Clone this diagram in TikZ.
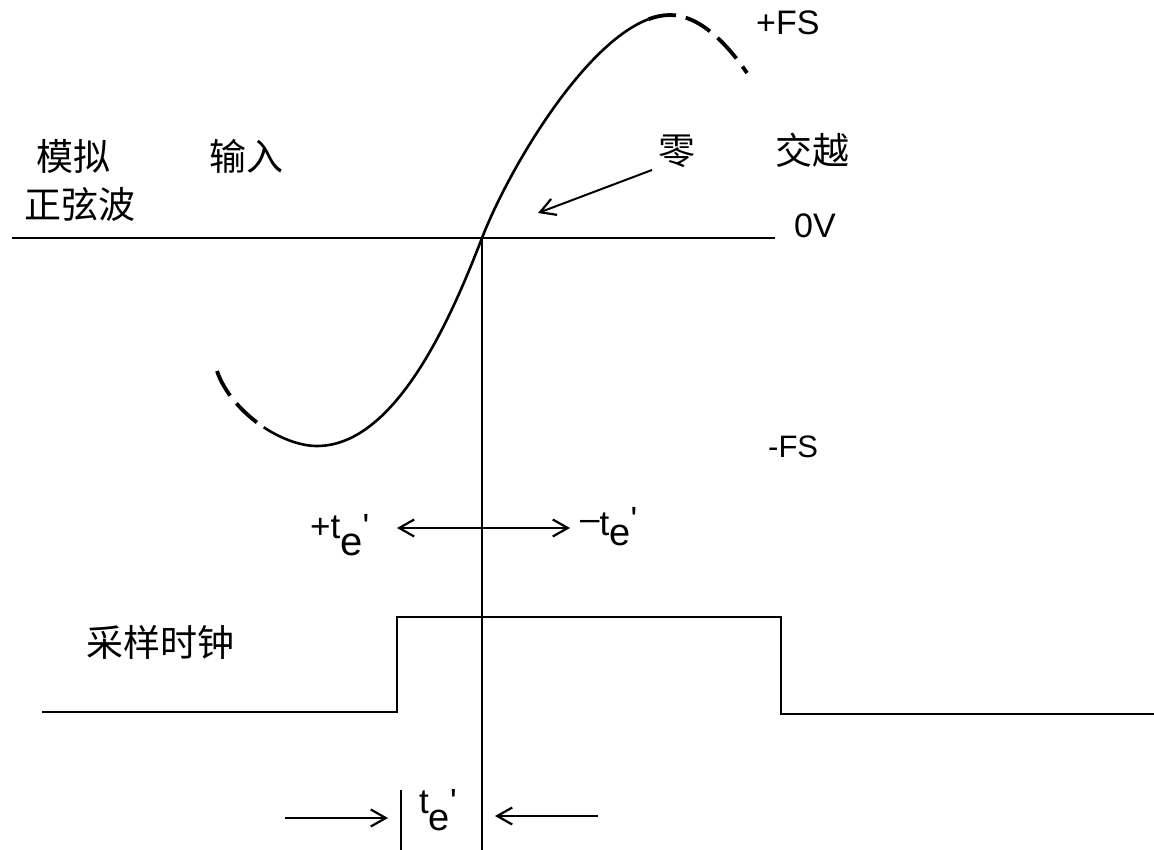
\documentclass[tikz,border=0pt]{standalone}
\usepackage{fontspec}
\setmainfont{Liberation Sans}
\newfontfamily\cjk{Noto Sans CJK SC}
\usetikzlibrary{arrows.meta}
\begin{document}
\begin{tikzpicture}[x=1pt,y=-1pt,
  lbl/.style={inner sep=0pt, anchor=base west, font=\fontsize{34}{38}\selectfont},
  tl/.style={inner sep=0pt, anchor=base west, font=\fontsize{35}{38}\selectfont},
  cn/.style={inner sep=0pt, font=\cjk\fontsize{37}{40}\selectfont},
  ln/.style={line width=2.4pt},
  curve/.style={line width=2.6pt},
  dsh/.style={line width=3.8pt, dash pattern=on 28pt off 10pt},
  barb/.style={line width=2pt, -{Straight Barb[length=15pt,width=17pt,line width=2.2pt]}},
  dbarb/.style={line width=2pt, {Straight Barb[length=15pt,width=17pt,line width=2.2pt]}-{Straight Barb[length=15pt,width=17pt,line width=2.2pt]}},
]
\useasboundingbox (0,0) rectangle (1154,850);
\fill[white] (0,0) rectangle (1154,850);

% coordinates
\coordinate (zl) at (12,238);
\coordinate (zr) at (775,238);
\coordinate (zc) at (482,238);
\coordinate (vb) at (482,850);
\coordinate (c1) at (42,712);
\coordinate (c2) at (397,712);
\coordinate (c3) at (397,617);
\coordinate (c4) at (781,617);
\coordinate (c5) at (781,714);
\coordinate (c6) at (1154,714);
\coordinate (ks) at (401,790);
\coordinate (ke) at (401,850);
\coordinate (ar1) at (652,170);
\coordinate (ar2) at (538,213);
\coordinate (dl) at (397,528);
\coordinate (dr) at (570,528);
\coordinate (b1s) at (285,818);
\coordinate (b1e) at (388,818);
\coordinate (b2s) at (598,816);
\coordinate (b2e) at (495,816);
\coordinate (sL) at (263.7,427.3);
\coordinate (mn1) at (317,446);
\coordinate (sR) at (648.5,19.2);
\coordinate (mx1) at (670,15);

% sine curve
\draw[dsh] (217,371) .. controls (224.2,392.5) and (242.5,413) .. (sL);
\draw[curve] (sL) .. controls (281.1,438.7) and (300.4,446) .. (mn1)
  .. controls (397,446) and (453,313) .. (zc)
  .. controls (508.1,170.5) and (582.8,43.9) .. (sR);
\draw[dsh] (sR) .. controls (655.8,16.5) and (663,15) .. (mx1)
  .. controls (700,15) and (728,45) .. (747,73);

% axis and lines
\draw[ln] (zl) -- (zr);
\draw[ln] (zc) -- (vb);
\draw[ln] (c1) -- (c2) -- (c3) -- (c4) -- (c5) -- (c6);
\draw[ln] (ks) -- (ke);

% arrows
\draw[barb] (ar1) -- (ar2);
\draw[dbarb] (dl) -- (dr);
\draw[barb] (b1s) -- (b1e);
\draw[barb] (b2s) -- (b2e);

% labels
\node[lbl] (pfs) at (756,35) {+FS};
\node[lbl] (zv) at (794,238) {0V};
\node[lbl, font=\fontsize{31}{34}\selectfont] (mfs) at (768,457) {-FS};

\node[cn] (mn) at (73,156) {模拟};
\node[cn] (sr) at (246,156) {输入};
\node[cn] (ling) at (677,151) {零};
\node[cn] (jy) at (812,150) {交越};
\node[cn] (zxb) at (80,204) {正弦波};
\node[cn] (cy) at (160,642) {采样时钟};

\node[tl] (tep) at (310,538)
  {+t\raisebox{-17pt}{\fontsize{40}{42}\selectfont e}\textquotesingle};
\node[tl] (tem) at (580,535)
  {\raisebox{5pt}{–}t\raisebox{-10pt}{\fontsize{38}{40}\selectfont e}\raisebox{4pt}{\textquotesingle}};
\node[tl] (teb) at (419,813)
  {t\raisebox{-17pt}{\fontsize{38}{40}\selectfont e}\textquotesingle};
\end{tikzpicture}
\end{document}
